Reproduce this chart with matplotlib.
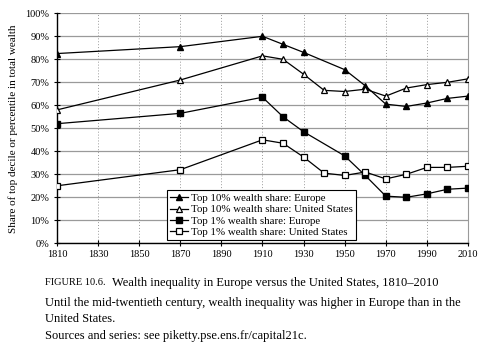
import matplotlib
matplotlib.use("Agg")
import matplotlib.pyplot as plt
from matplotlib.ticker import FuncFormatter

plt.rcParams['font.family'] = ['Liberation Serif', 'DejaVu Serif']

years_eu = [1810, 1870, 1910, 1920, 1930, 1950, 1960, 1970, 1980, 1990, 2000, 2010]
years_us = [1810, 1870, 1910, 1920, 1930, 1940, 1950, 1960, 1970, 1980, 1990, 2000, 2010]

top10_europe = [82.5, 85.5, 90.0, 86.5, 83.0, 75.5, 68.5, 60.5, 59.5, 61.0, 63.0, 64.0]
top10_us = [58.0, 71.0, 81.5, 80.0, 73.5, 66.5, 66.0, 67.0, 64.0, 67.5, 69.0, 70.0, 71.5]
top1_europe = [52.0, 56.5, 63.5, 55.0, 48.5, 38.0, 29.5, 20.5, 20.0, 21.5, 23.5, 24.0]
top1_us = [25.0, 32.0, 45.0, 43.5, 37.5, 30.5, 29.5, 31.0, 28.0, 30.0, 33.0, 33.0, 33.5]

labels = ["Top 10% wealth share: Europe", "Top 10% wealth share: United States",
          "Top 1% wealth share: Europe", "Top 1% wealth share: United States"]

fig = plt.figure(figsize=(4.91, 3.49), dpi=100)
ax = fig.add_axes([57 / 491, 1 - 243.3 / 349, 411 / 491, 230 / 349])

ms = 5
ax.plot(years_eu, top10_europe, color='black', lw=0.9, marker='^', ms=ms,
        mfc='black', mec='black', label=labels[0], zorder=3)
ax.plot(years_us, top10_us, color='black', lw=0.9, marker='^', ms=ms,
        mfc='white', mec='black', mew=0.9, label=labels[1], zorder=3)
ax.plot(years_eu, top1_europe, color='black', lw=0.9, marker='s', ms=ms - 0.5,
        mfc='black', mec='black', label=labels[2], zorder=3)
ax.plot(years_us, top1_us, color='black', lw=0.9, marker='s', ms=ms - 0.5,
        mfc='white', mec='black', mew=0.9, label=labels[3], zorder=3)

ax.set_xlim(1810, 2010)
ax.set_ylim(0, 100)
ax.set_xticks(range(1810, 2011, 20))
ax.set_yticks(range(0, 101, 10))
ax.yaxis.set_major_formatter(FuncFormatter(lambda v, p: "%d%%" % v))

ax.yaxis.grid(True, color='#9a9a9a', lw=0.9, ls='-', zorder=0)
ax.xaxis.grid(True, color='#9a9a9a', lw=0.7, ls=(0, (1, 2)), zorder=0)

ax.spines['top'].set_visible(False)
ax.spines['right'].set_color('#9a9a9a')
ax.spines['left'].set_linewidth(1.0)
ax.spines['bottom'].set_linewidth(1.0)
ax.tick_params(axis='both', direction='inout', length=5, width=0.8, labelsize=7.5, pad=2)
ax.tick_params(axis='y', pad=3)
ax.set_ylabel("Share of top decile or percentile in total wealth", fontsize=8, labelpad=5)

leg = ax.legend(loc='lower left', bbox_to_anchor=(0.268, 0.014), fontsize=7.8,
                frameon=True, fancybox=False, edgecolor='black', framealpha=1,
                borderpad=0.3, labelspacing=0.15, handlelength=1.6, handletextpad=0.3,
                borderaxespad=0)
leg.get_frame().set_linewidth(0.8)

fig.text(45 / 491, 1 - 282.7 / 349, "FIGURE 10.6.", fontsize=7.5, va='center', ha='left')
fig.text(112 / 491, 1 - 282.7 / 349,
         "Wealth inequality in Europe versus the United States, 1810\u20132010",
         fontsize=9, va='center', ha='left')
fig.text(45 / 491, 1 - 303 / 349,
         "Until the mid-twentieth century, wealth inequality was higher in Europe than in the",
         fontsize=9, va='center', ha='left')
fig.text(45 / 491, 1 - 319 / 349, "United States.", fontsize=9, va='center', ha='left')
fig.text(45 / 491, 1 - 336.5 / 349, "Sources and series: see piketty.pse.ens.fr/capital21c.",
         fontsize=9, va='center', ha='left')

fig.savefig("out.png", dpi=100)
